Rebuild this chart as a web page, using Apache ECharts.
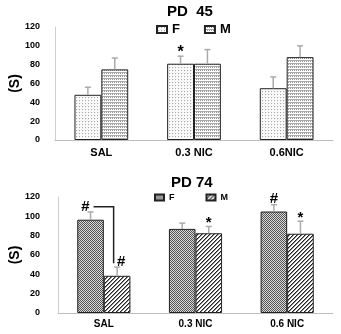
<!DOCTYPE html>
<html><head><meta charset="utf-8">
<script src="https://cdn.jsdelivr.net/npm/echarts@6/dist/echarts.min.js"></script>
<style>html,body{margin:0;padding:0;background:#fff}#c{width:341px;height:334px}</style>
</head><body><div id="c"></div>
<script>
const categoriesPD45 = ['SAL', '0.3 NIC', '0.6NIC'];
const categoriesPD74 = ['SAL', '0.3 NIC', '0.6 NIC'];
const yMin = 0, yMax = 120, yStep = 20;
const pd45F = [48, 81, 55];
const pd45FErr = [8, 8, 12];
const pd45M = [75, 81, 88];
const pd45MErr = [12, 15, 12];
const pd74F = [96.5, 87, 105];
const pd74FErr = [8, 6, 7];
const pd74M = [38.5, 82.5, 82];
const pd74MErr = [9, 7, 13];
const pd45FMarks = ['', '*', ''];
const pd45MMarks = ['', '', ''];
const pd74FMarks = ['#', '', '#'];
const pd74MMarks = ['#', '*', '*'];
const pd74Bracket = [[0, 110, 51.5]]; // category index, top value, bottom value

const FONT = 'Liberation Sans, Arial, sans-serif';
const GAP = 0.42;

function makePattern(w, h, fn) {
  const c = document.createElement('canvas'); c.width = w; c.height = h;
  const ctx = c.getContext('2d');
  ctx.fillStyle = '#fff'; ctx.fillRect(0, 0, w, h);
  for (let y = 0; y < h; y++) for (let x = 0; x < w; x++) {
    const col = fn(x, y); if (col) { ctx.fillStyle = col; ctx.fillRect(x, y, 1, 1); }
  }
  return { image: c, repeat: 'repeat' };
}
const pat45F = makePattern(3, 3, (x, y) => (x === 1 && y === 1) ? '#a8a8a8' : ((x + y) % 3 === 0 ? '#eeeeee' : null));
const pat45M = makePattern(4, 3, (x, y) => y === 0 ? '#aaaaaa' : (y === 1 && x % 2 === 0 ? '#999999' : null));
const pat74F = makePattern(2, 2, (x, y) => (x + y) % 2 === 0 ? '#555555' : '#d8d8d8');
const pat74M = makePattern(4, 4, (x, y) => (x + y) % 4 === 3 ? '#222222' : ((x + y) % 4 === 0 ? '#8a8a8a' : null));

function barSeries(name, xi, data, pattern) {
  return {
    name, type: 'bar', xAxisIndex: xi, yAxisIndex: xi, data,
    barGap: '0%', barCategoryGap: (GAP * 100) + '%',
    itemStyle: { color: pattern, borderColor: '#222', borderWidth: 1 },
    emphasis: { disabled: true }, silent: true
  };
}

function errSeries(xi, vals, errs, marks, side, markFont, bracket) {
  return {
    type: 'custom', xAxisIndex: xi, yAxisIndex: xi, z: 5, silent: true,
    data: vals.map((v, i) => [i, v, v + errs[i]]),
    renderItem(params, api) {
      const band = api.size([1, 0])[0];
      const bw = band * (1 - GAP) / 2;
      const ci = api.value(0);
      const c0 = api.coord([ci, api.value(1)]);
      const c1 = api.coord([ci, api.value(2)]);
      const x = c0[0] + side * bw / 2;
      const children = [
        { type: 'line', shape: { x1: x, y1: c0[1], x2: x, y2: c1[1] }, style: { stroke: '#aaa', lineWidth: 1.5 } },
        { type: 'line', shape: { x1: x - 3, y1: c1[1], x2: x + 3, y2: c1[1] }, style: { stroke: '#aaa', lineWidth: 1.5 } }
      ];
      const m = marks[params.dataIndex];
      if (m) {
        let dx = 0;
        if (bracket && bracket.some(b => b[0] === ci)) dx = side < 0 ? -5 : 4;
        const dy = m === '*' ? 4 : 2;
        children.push({ type: 'text', x: x + dx, y: c1[1] + dy,
          style: { text: m, font: markFont, fill: '#000', textAlign: 'center', textVerticalAlign: 'bottom', align: 'center', verticalAlign: 'bottom' } });
      }
      return { type: 'group', children };
    }
  };
}

function bracketSeries(xi, data) {
  return {
    type: 'custom', xAxisIndex: xi, yAxisIndex: xi, z: 6, silent: true, data,
    renderItem(params, api) {
      const band = api.size([1, 0])[0];
      const bw = band * (1 - GAP) / 2;
      const top = api.coord([api.value(0), api.value(1)]);
      const bot = api.coord([api.value(0), api.value(2)]);
      const xF = top[0] - bw / 2 + 3;
      const xV = top[0] + bw / 2 - 3.5;
      return { type: 'polyline', shape: { points: [[xF, top[1]], [xV, top[1]], [xV, bot[1]]] },
        style: { stroke: '#222', lineWidth: 1.5, fill: null } };
    }
  };
}

function yAxis(gi, nameGap, labelMargin) {
  return {
    gridIndex: gi, type: 'value', min: yMin, max: yMax, interval: yStep,
    name: '(S)', nameLocation: 'middle', nameGap, nameRotate: 90, nameMoveOverlap: false,
    nameTextStyle: { fontFamily: FONT, fontWeight: 'bold', fontSize: 14, color: '#000' },
    axisLine: { show: true, lineStyle: { color: '#cfcfcf', width: 1 } },
    axisTick: { show: false }, splitLine: { show: false },
    axisLabel: { fontFamily: FONT, fontWeight: 'bold', fontSize: 9, color: '#000', margin: labelMargin }
  };
}
function xAxis(gi, cats, fs, margin) {
  return {
    gridIndex: gi, type: 'category', data: cats,
    axisLine: { lineStyle: { color: '#bdbdbd', width: 1 } }, axisTick: { show: false },
    axisLabel: { fontFamily: FONT, fontWeight: 'bold', fontSize: fs, color: '#000', margin, interval: 0 }
  };
}

const chart = echarts.init(document.getElementById('c'), null, { renderer: 'canvas' });
chart.setOption({
  animation: false,
  backgroundColor: '#fff',
  title: [
    { text: 'PD  45', left: 167, top: 4, textStyle: { fontFamily: FONT, fontWeight: 'bold', fontSize: 15, color: '#000' }, padding: 0 },
    { text: 'PD 74', left: 171, top: 175, textStyle: { fontFamily: FONT, fontWeight: 'bold', fontSize: 15, color: '#000' }, padding: 0 }
  ],
  legend: [
    { data: ['F45', 'M45'], left: 156, top: 23, itemWidth: 10, itemHeight: 7, itemGap: 24, padding: 0,
      icon: 'rect', formatter: n => n.replace(/\d+/, ''),
      textStyle: { fontFamily: FONT, fontWeight: 'bold', fontSize: 13, color: '#000' }, selectedMode: false },
    { data: ['F74', 'M74'], left: 154, top: 193, itemWidth: 9, itemHeight: 6, itemGap: 31, padding: 0,
      icon: 'rect', formatter: n => n.replace(/\d+/, ''),
      textStyle: { fontFamily: FONT, fontWeight: 'bold', fontSize: 9, color: '#000' }, selectedMode: false }
  ],
  grid: [
    { left: 55, right: 8, top: 27, height: 113, outerBoundsMode: 'none', containLabel: false },
    { left: 58, right: 8, top: 197, height: 116, outerBoundsMode: 'none', containLabel: false }
  ],
  xAxis: [xAxis(0, categoriesPD45, 11, 7), xAxis(1, categoriesPD74, 10, 6)],
  yAxis: [yAxis(0, 33, 15), yAxis(1, 36, 18)],
  series: [
    barSeries('F45', 0, pd45F, pat45F),
    barSeries('M45', 0, pd45M, pat45M),
    barSeries('F74', 1, pd74F, pat74F),
    barSeries('M74', 1, pd74M, pat74M),
    errSeries(0, pd45F, pd45FErr, pd45FMarks, -1, 'bold 16px ' + FONT, null),
    errSeries(0, pd45M, pd45MErr, pd45MMarks, 1, 'bold 16px ' + FONT, null),
    errSeries(1, pd74F, pd74FErr, pd74FMarks, -1, 'bold 15px ' + FONT, pd74Bracket),
    errSeries(1, pd74M, pd74MErr, pd74MMarks, 1, 'bold 15px ' + FONT, pd74Bracket),
    bracketSeries(1, pd74Bracket)
  ]
});
</script></body></html>
